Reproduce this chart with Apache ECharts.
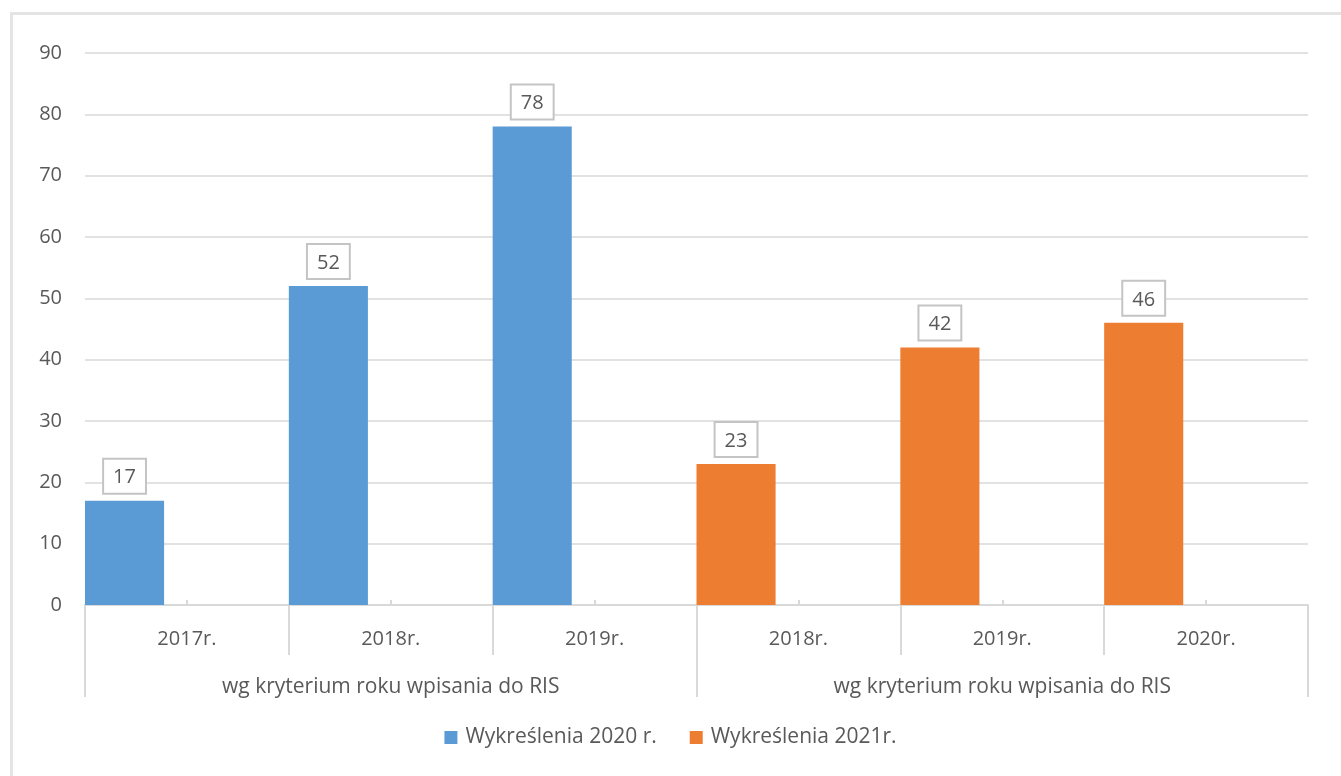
<!DOCTYPE html>
<html><head><meta charset="utf-8">
<script src="https://cdn.jsdelivr.net/npm/echarts@6/dist/echarts.min.js"></script>
<style>
html,body{margin:0;padding:0;background:#fff;overflow:hidden;}
#frame{position:absolute;left:10px;top:12px;width:1400px;height:800px;border:3px solid #e4e4e4;box-sizing:border-box;}
#c{position:absolute;left:0;top:0;width:1341px;height:776px;}
</style></head>
<body><div id="frame"></div><div id="c"></div>
<script>
const years = ['2017r.', '2018r.', '2019r.', '2018r.', '2019r.', '2020r.'];
const groups = ['wg kryterium roku wpisania do RIS', 'wg kryterium roku wpisania do RIS'];
const seriesNames = ['Wykreślenia 2020 r.', 'Wykreślenia 2021r.'];
const values2020 = [17, 52, 78, '-', '-', '-'];
const values2021 = ['-', '-', '-', 23, 42, 46];
const yTicks = {min: 0, max: 90, interval: 10};

const font = '"Open Sans", Lato, sans-serif';
const txt = '#595959';
const lineC = '#d9d9d9';
const labelBox = {
  show: true, position: 'top', distance: 8,
  color: txt, fontSize: 20, fontFamily: font,
  backgroundColor: '#fff', borderColor: '#c4c4c4', borderWidth: 2,
  padding: [8, 9, 5, 9]
};
const chart = echarts.init(document.getElementById('c'), null, {renderer: 'canvas'});
chart.setOption({
  animation: false,
  textStyle: {fontFamily: font},
  grid: {left: 85, right: 33, top: 53, bottom: 171, containLabel: false},
  legend: {
    data: seriesNames, top: 722, left: 'center', itemWidth: 13, itemHeight: 13, itemGap: 33,
    icon: 'rect', textStyle: {color: txt, fontSize: 21, fontFamily: font, padding: [0, 0, 0, 3]}
  },
  xAxis: [
    {type: 'category', data: years, position: 'bottom',
     axisLine: {show: true, lineStyle: {color: lineC, width: 2}},
     axisTick: {show: true, interval: 0, length: 50, lineStyle: {color: lineC, width: 2}},
     axisLabel: {color: txt, fontSize: 20, fontFamily: font, margin: 24, interval: 0}},
    {type: 'category', data: groups, position: 'bottom',
     axisLine: {show: false},
     axisTick: {show: true, interval: 0, length: 92, lineStyle: {color: lineC, width: 2}},
     axisLabel: {color: txt, fontSize: 21, fontFamily: font, margin: 72, interval: 0}},
    {type: 'category', data: years, position: 'bottom',
     axisLine: {show: false},
     axisTick: {show: true, alignWithLabel: true, inside: true, length: 5, interval: 0, lineStyle: {color: lineC, width: 2}},
     axisLabel: {show: false}}
  ],
  yAxis: {type: 'value', min: yTicks.min, max: yTicks.max, interval: yTicks.interval,
    axisLine: {show: false}, axisTick: {show: false},
    splitLine: {lineStyle: {color: lineC, width: 1.5}},
    axisLabel: {color: txt, fontSize: 20, fontFamily: font, margin: 23}},
  series: [
    {name: seriesNames[0], type: 'bar', stack: 's', xAxisIndex: 0, data: values2020,
     barWidth: '38.8%', barGap: 0, itemStyle: {color: '#5b9bd5'}, label: labelBox},
    {name: seriesNames[1], type: 'bar', stack: 's', xAxisIndex: 0, data: values2021,
     barWidth: '38.8%', barGap: 0, itemStyle: {color: '#ed7d31'}, label: labelBox},
    {name: 'spacer', type: 'bar', xAxisIndex: 0, data: [], barWidth: '61.2%', barGap: 0, silent: true}
  ]
});
</script></body></html>
